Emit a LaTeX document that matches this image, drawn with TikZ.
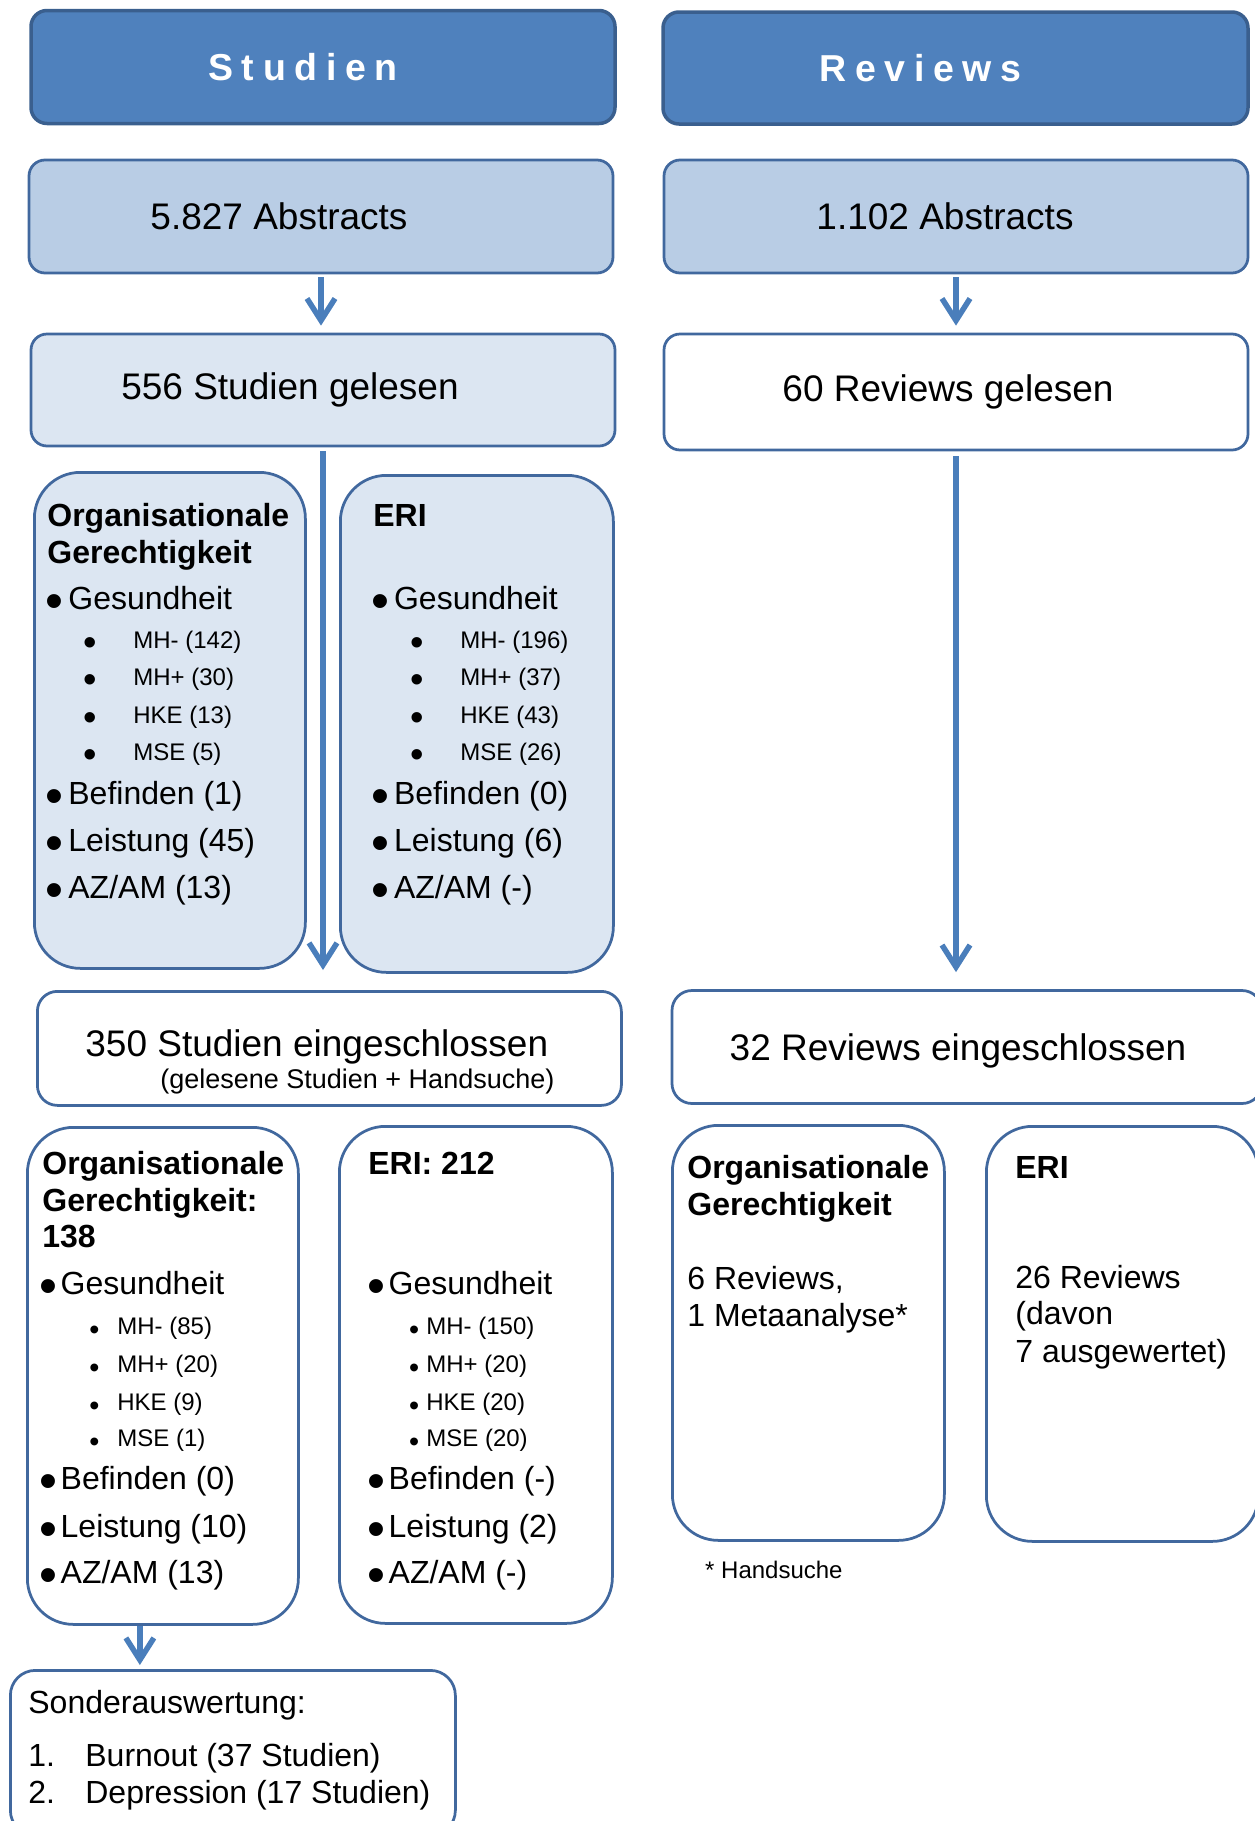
\documentclass[tikz,border=0pt]{standalone}
\usepackage{fontspec}
\setmainfont{Liberation Sans}
\newfontfamily\spacedfont[LetterSpace=23]{Liberation Sans}
\usetikzlibrary{arrows.meta}

\definecolor{headfill}{HTML}{4F81BD}
\definecolor{headline}{HTML}{3A5F8E}
\definecolor{abstractfill}{HTML}{B9CDE5}
\definecolor{readfill}{HTML}{DCE6F2}
\definecolor{boxline}{HTML}{41689E}
\definecolor{arrowblue}{HTML}{4A7EBB}

% text helpers
\newcommand{\nudgeleft}[2]{\hspace*{-#1}#2\hspace*{#1}}
\newcommand{\panelbody}[3]{\begin{minipage}[t][#2][t]{#1}\mbox{}\par#3\end{minipage}}
\newcommand{\titleln}[3]{{\fontsize{32pt}{#1}\selectfont\bfseries\hspace*{#2}\mbox{#3}\par}}
\newcommand{\textln}[4]{{\fontsize{#1}{#2}\selectfont\hspace*{#3}\mbox{#4}\par}}
\newcommand{\bigdot}{\raisebox{-0.28em}{\scalebox{1.6}{\textbullet}}}
\newcommand{\smalldot}{\raisebox{-0.2em}{\scalebox{1.2}{\textbullet}}}
% size, skip, dot centre, text start, dot, text
\newcommand{\bulletln}[6]{{\fontsize{#1}{#2}\selectfont\hspace*{#3}\makebox[0pt]{#5}\hspace*{\dimexpr#4-#3\relax}\mbox{#6}\par}}

\tikzstyle{headbox} = [
    rectangle,
    rounded corners=16pt,
    minimum width=584pt,
    minimum height=113pt,
    line width=3.5pt,
    draw=headline,
    fill=headfill,
    text=white,
    font=\spacedfont\fontsize{37.5pt}{40pt}\selectfont\bfseries
]
\tikzstyle{mainbox} = [
    rectangle,
    rounded corners=16pt,
    minimum width=584pt,
    minimum height=113pt,
    line width=2.75pt,
    draw=boxline,
    fill=white,
    font=\fontsize{37pt}{44pt}\selectfont
]
\tikzstyle{listbox} = [
    rectangle,
    rounded corners=46pt,
    inner sep=0pt,
    anchor=north west,
    line width=2.75pt,
    draw=boxline,
    fill=white
]
\tikzstyle{arrow} = [line width=5.5pt, draw=arrowblue, -{Straight Barb[length=22pt,width=28pt]}]

\begin{document}
\begin{tikzpicture}[x=1pt, y=-1pt]

\useasboundingbox (0,0) rectangle (1255,1821);

% column heads
\node (studien) [headbox] at (323,67) {\nudgeleft{20pt}{Studien}};
\node (reviews) [headbox, minimum width=585pt, minimum height=112pt] at (955.5,68)
{\nudgeleft{35pt}{Reviews}};

\node (absL) [mainbox, fill=abstractfill] at (321,216.5)
{\nudgeleft{42pt}{5.827 Abstracts}};
\node (absR) [mainbox, fill=abstractfill] at (956,216.5)
{\nudgeleft{11pt}{1.102 Abstracts}};

\node (readL) [mainbox, fill=readfill, minimum height=112pt] at (323,390)
{\nudgeleft{33pt}{556 Studien gelesen}};
\node (readR) [mainbox, minimum height=116pt] at (956,392)
{\nudgeleft{8pt}{60 Reviews gelesen}};

% read studies
\node (orgA) [listbox, fill=readfill] at (33,471) {\panelbody{271pt}{496pt}{%
\titleln{54pt}{13pt}{Organisationale}
\titleln{37pt}{13pt}{Gerechtigkeit}
\bulletln{32pt}{46pt}{19.7pt}{34pt}{\bigdot}{Gesundheit}
\bulletln{24pt}{39pt}{56pt}{99pt}{\bigdot}{MH- (142)}
\bulletln{24pt}{37pt}{56pt}{99pt}{\bigdot}{MH+ (30)}
\bulletln{24pt}{38pt}{56pt}{99pt}{\bigdot}{HKE (13)}
\bulletln{24pt}{37pt}{56pt}{99pt}{\bigdot}{MSE (5)}
\bulletln{32pt}{44pt}{19.7pt}{34pt}{\bigdot}{Befinden (1)}
\bulletln{32pt}{47pt}{19.7pt}{34pt}{\bigdot}{Leistung (45)}
\bulletln{32pt}{47pt}{19.7pt}{34pt}{\bigdot}{AZ/AM (13)}}};

\node (eriA) [listbox, fill=readfill] at (339,474) {\panelbody{273pt}{497pt}{%
\titleln{51pt}{33pt}{ERI}
\bulletln{32pt}{83pt}{40.3pt}{53.7pt}{\bigdot}{Gesundheit}
\bulletln{24pt}{39pt}{77pt}{120pt}{\bigdot}{MH- (196)}
\bulletln{24pt}{37pt}{77pt}{120pt}{\bigdot}{MH+ (37)}
\bulletln{24pt}{38pt}{77pt}{120pt}{\bigdot}{HKE (43)}
\bulletln{24pt}{37pt}{77pt}{120pt}{\bigdot}{MSE (26)}
\bulletln{32pt}{44pt}{40.3pt}{53.7pt}{\bigdot}{Befinden (0)}
\bulletln{32pt}{47pt}{40.3pt}{53.7pt}{\bigdot}{Leistung (6)}
\bulletln{32pt}{47pt}{40.3pt}{53.7pt}{\bigdot}{AZ/AM (-)}}};

% included
\node (incl) [listbox, rounded corners=20pt] at (36,990) {\panelbody{584pt}{114pt}{%
\textln{37pt}{65pt}{48pt}{350 Studien eingeschlossen}
\textln{27pt}{32pt}{123pt}{(gelesene Studien + Handsuche)}}};
\node (inclR) [mainbox, rounded corners=20pt, minimum width=590pt, text depth=0pt] at (967,1047)
{\nudgeleft{9pt}{32 Reviews eingeschlossen}};

\node (orgB) [listbox] at (26,1126) {\panelbody{271pt}{497pt}{%
\titleln{47pt}{15pt}{Organisationale}
\titleln{37pt}{15pt}{Gerechtigkeit:}
\titleln{36pt}{15pt}{138}
\bulletln{32pt}{47pt}{20.7pt}{33.3pt}{\bigdot}{Gesundheit}
\bulletln{24pt}{40pt}{67pt}{90pt}{\smalldot}{MH- (85)}
\bulletln{24pt}{38pt}{67pt}{90pt}{\smalldot}{MH+ (20)}
\bulletln{24pt}{38pt}{67pt}{90pt}{\smalldot}{HKE (9)}
\bulletln{24pt}{36pt}{67pt}{90pt}{\smalldot}{MSE (1)}
\bulletln{32pt}{43pt}{20.7pt}{33.3pt}{\bigdot}{Befinden (0)}
\bulletln{32pt}{48pt}{20.7pt}{33.3pt}{\bigdot}{Leistung (10)}
\bulletln{32pt}{46pt}{20.7pt}{33.3pt}{\bigdot}{AZ/AM (13)}}};

\node (eriB) [listbox] at (338,1125) {\panelbody{273pt}{497pt}{%
\titleln{48pt}{29pt}{ERI: 212}
\bulletln{32pt}{120pt}{37pt}{49.3pt}{\bigdot}{Gesundheit}
\bulletln{24pt}{40pt}{74.7pt}{87pt}{\smalldot}{MH- (150)}
\bulletln{24pt}{38pt}{74.7pt}{87pt}{\smalldot}{MH+ (20)}
\bulletln{24pt}{38pt}{74.7pt}{87pt}{\smalldot}{HKE (20)}
\bulletln{24pt}{36pt}{74.7pt}{87pt}{\smalldot}{MSE (20)}
\bulletln{32pt}{43pt}{37pt}{49.3pt}{\bigdot}{Befinden (-)}
\bulletln{32pt}{48pt}{37pt}{49.3pt}{\bigdot}{Leistung (2)}
\bulletln{32pt}{46pt}{37pt}{49.3pt}{\bigdot}{AZ/AM (-)}}};

\node (orgR) [listbox] at (671,1124) {\panelbody{272pt}{415pt}{%
\titleln{53pt}{15pt}{Organisationale}
\titleln{37pt}{15pt}{Gerechtigkeit}
\textln{32pt}{74pt}{15pt}{6 Reviews,}
\textln{32pt}{37pt}{15pt}{1 Metaanalyse*}}};

\node (eriR) [listbox] at (985,1125) {\panelbody{272pt}{415pt}{%
\titleln{52pt}{29pt}{ERI}
\textln{32pt}{110pt}{29pt}{26 Reviews}
\textln{32pt}{36pt}{29pt}{(davon}
\textln{32pt}{38pt}{29pt}{7 ausgewertet)}}};

\node (handsuche) [anchor=base west, inner sep=0pt, font=\fontsize{24pt}{28pt}\selectfont] at (705,1578)
{* Handsuche};

\node (sonder) [listbox, rounded corners=25pt] at (9,1669) {\panelbody{445pt}{165pt}{%
\textln{32pt}{43pt}{18pt}{Sonderauswertung:}
\textln{32pt}{53pt}{18pt}{\makebox[57pt][l]{1.}Burnout (37 Studien)}
\textln{32pt}{37pt}{18pt}{\makebox[57pt][l]{2.}Depression (17 Studien)}}};

\draw [arrow, shorten <=3pt, shorten >=7pt] (absL.south) -- (absL.south |- readL.north);
\draw [arrow, shorten <=3pt, shorten >=7pt] (absR.south) -- (absR.south |- readR.north);
\draw [arrow, shorten <=4pt, shorten >=20pt] (readL.south) -- (readL.south |- incl.north);
\draw [arrow, shorten <=5pt, shorten >=17pt] (readR.south) -- (readR.south |- inclR.north);
\draw [arrow, shorten >=4pt] ([xshift=-23pt]orgB.south) -- ([xshift=-23pt]orgB.south |- sonder.north);

\end{tikzpicture}
\end{document}
